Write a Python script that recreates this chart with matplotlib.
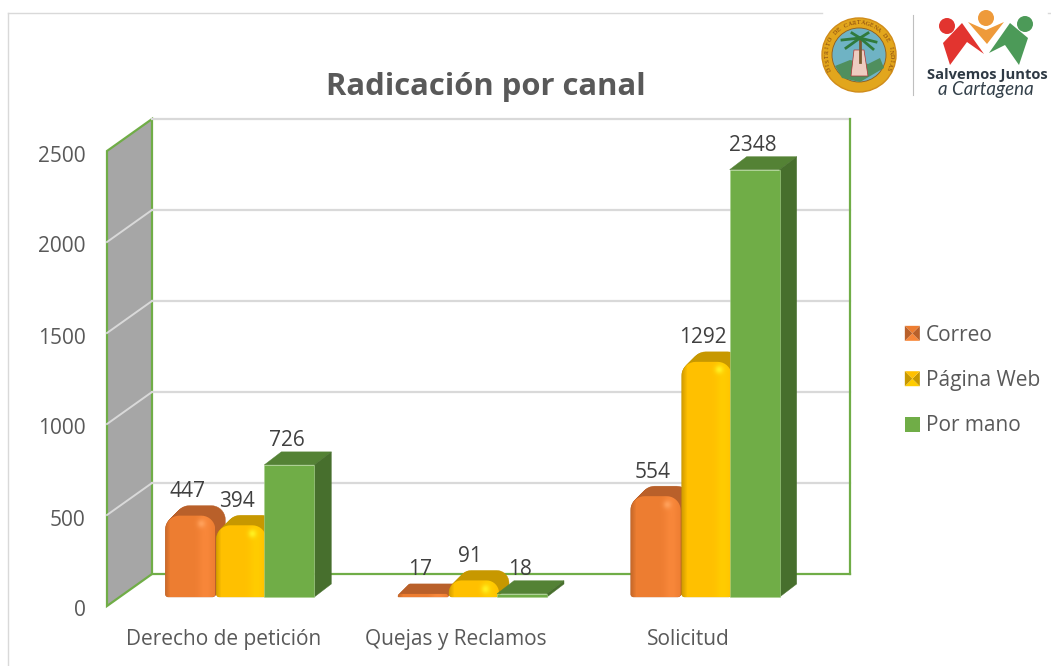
import matplotlib
matplotlib.use('Agg')
import matplotlib.pyplot as plt
from matplotlib.legend_handler import HandlerBase
from matplotlib.patches import Circle, Patch, Polygon
from matplotlib.transforms import ScaledTranslation
import numpy as np

categories = ['Derecho de petición', 'Quejas y Reclamos', 'Solicitud']
series_names = ['Correo', 'Página Web', 'Por mano']
correo = [447, 17, 554]
pagina_web = [394, 91, 1292]
por_mano = [726, 18, 2348]
y_ticks = [0, 500, 1000, 1500, 2000, 2500]

TEXT = '#595959'
LABEL = '#404040'
GREEN_LINE = '#70ad47'
GRID = '#d9d9d9'
ORANGE = {'face': '#ed7d31', 'dark': '#b9602a', 'edge': '#c96a2a', 'light': '#f8873a', 'spot': '#ffa05a'}
YELLOW = {'face': '#ffc000', 'dark': '#c79800', 'edge': '#d79f00', 'light': '#ffcc00', 'spot': '#fff020'}
GREEN = {'face': '#70ad47', 'top': '#548235', 'side': '#476f2d'}

plt.rcParams['font.family'] = ['Open Sans', 'DejaVu Sans']

W, H = 1051, 666
AX_L, AX_R, AX_T, AX_B = 107, 805, 151, 606
fig = plt.figure(figsize=(W / 100, H / 100), dpi=100)

# pixel overlay for frame and logos, lives behind the chart
bg = fig.add_axes([0, 0, 1, 1], zorder=0)
bg.set_xlim(0, W)
bg.set_ylim(H, 0)
bg.axis('off')

ax = fig.add_axes([AX_L / W, 1 - AX_B / H, (AX_R - AX_L) / W, (AX_B - AX_T) / H], zorder=1)
ax.patch.set_alpha(0)
ax.set_xlim(-0.5, 2.5)
ax.set_ylim(0, 2500)
for s in ax.spines.values():
    s.set_visible(False)

PX = 3 / (AX_R - AX_L)  # category units per pixel
PY = 2500 / (AX_B - AX_T)  # value units per pixel


def px(n):
    return n * PX


def py(n):
    return n * PY


WALL_DX, WALL_DY = px(45), py(32)
BAR_DX, BAR_DY = px(16), py(9)  # bars stand halfway into the floor
BAR_W = px(50)
DEPTH_X, DEPTH_Y = px(17), py(13)
BEVEL_X, BEVEL_Y = px(10), py(10)


def draw_walls():
    x0, x1 = -0.5, 2.5
    ax.add_patch(Polygon([(x0, 0), (x0 + WALL_DX, WALL_DY), (x0 + WALL_DX, 2500 + WALL_DY), (x0, 2500)],
                         closed=True, fc='#a6a6a6', ec=GREEN_LINE, lw=1.6, clip_on=False, zorder=1))
    for v in y_ticks[1:]:
        if v < 2500:
            ax.plot([x0, x0 + WALL_DX], [v, v + WALL_DY], color=GRID, lw=1.4, clip_on=False, zorder=2)
        ax.plot([x0 + WALL_DX, x1 + WALL_DX], [v + WALL_DY, v + WALL_DY], color=GRID, lw=1.6,
                clip_on=False, zorder=1)
    ax.plot([x0 + WALL_DX, x1 + WALL_DX], [WALL_DY, WALL_DY], color=GREEN_LINE, lw=1.6, clip_on=False, zorder=1)
    ax.plot([x1 + WALL_DX, x1 + WALL_DX], [WALL_DY, 2500 + WALL_DY], color=GREEN_LINE, lw=1.6,
            clip_on=False, zorder=1)


def round_outline(left, value, r_top=14, r_bot=3):
    # outline of a rounded column, working in pixels from its lower left corner
    w_px = BAR_W / PX
    h_px = max(value / PY, 2.0)
    rt = min(r_top, h_px * 0.75)
    rb = min(r_bot, h_px * 0.2)
    t = np.linspace(0, np.pi / 2, 10)
    xs = np.concatenate([rb - rb * np.sin(t), rt - rt * np.cos(t), w_px - rt + rt * np.sin(t),
                         w_px - rb + rb * np.cos(t)])
    ys = np.concatenate([rb - rb * np.cos(t), h_px - rt + rt * np.sin(t), h_px - rt + rt * np.cos(t),
                         rb - rb * np.sin(t)])
    return np.column_stack([left + xs * PX, BAR_DY + ys * PY])


def bevel_image(style, w_px, h_px):
    # front face shading: darker rims, light band to the right, hot spot near the top right
    n_x, n_y = max(int(w_px), 2), max(int(h_px), 2)
    c_face = np.array(matplotlib.colors.to_rgb(style['face']))
    c_edge = np.array(matplotlib.colors.to_rgb(style['edge']))
    c_light = np.array(matplotlib.colors.to_rgb(style['light']))
    c_spot = np.array(matplotlib.colors.to_rgb(style['spot']))
    xx, yy = np.meshgrid(np.arange(n_x), np.arange(n_y))
    img = np.ones((n_y, n_x, 3)) * c_face
    band = np.exp(-((xx - (n_x - 10)) / 7.0) ** 2)[..., None]
    img = img * (1 - band) + c_light * band
    rim = np.clip(1 - xx / 5.0, 0, 1)[..., None]
    img = img * (1 - rim) + c_edge * rim
    spot = np.exp(-(((xx - (n_x - 14)) / 4.0) ** 2 + ((yy - 8) / 4.0) ** 2))[..., None]
    img = img * (1 - spot) + c_spot * spot
    return img


def draw_bevel_bar(x_center, value, style, zorder, nudge=0.0):
    left = x_center - BAR_W / 2 + BAR_DX + nudge
    outline = round_outline(left, value)
    for t in np.linspace(1, 0, 14):
        ax.add_patch(Polygon(outline + [t * BEVEL_X, t * BEVEL_Y], closed=True, fc=style['dark'],
                             ec=style['dark'], lw=0.3, clip_on=False, zorder=zorder))
    face = Polygon(outline, closed=True, fc='none', ec='none', clip_on=False, zorder=zorder)
    ax.add_patch(face)
    top = BAR_DY + max(value, py(2))
    im = ax.imshow(bevel_image(style, BAR_W / PX, max(value, py(2)) / PY),
                   extent=(left, left + BAR_W, BAR_DY, top), aspect='auto', origin='upper',
                   interpolation='bilinear', zorder=zorder + 0.1)
    im.set_clip_path(face)
    im.set_clip_box(fig.bbox)


def draw_box_bar(x_center, value, zorder):
    left = x_center - BAR_W / 2 + BAR_DX
    right = left + BAR_W
    base = BAR_DY
    top = BAR_DY + value
    ax.bar(left + BAR_W / 2, value, width=BAR_W, bottom=base, color=GREEN['face'], edgecolor='#a9d18e',
           linewidth=0.4, clip_on=False, zorder=zorder + 0.1)
    ax.add_patch(Polygon([(left, top), (right, top), (right + DEPTH_X, top + DEPTH_Y), (left + DEPTH_X, top + DEPTH_Y)],
                         closed=True, fc=GREEN['top'], ec=GREEN['top'], lw=0.3, clip_on=False, zorder=zorder))
    ax.add_patch(Polygon([(right, base), (right + DEPTH_X, base + DEPTH_Y), (right + DEPTH_X, top + DEPTH_Y), (right, top)],
                         closed=True, fc=GREEN['side'], ec=GREEN['side'], lw=0.3, clip_on=False, zorder=zorder))


class PyramidHandler(HandlerBase):
    # bevelled legend swatch, four triangles meeting in the middle
    def __init__(self, style):
        super().__init__()
        self.style = style

    def create_artists(self, legend, orig_handle, xdescent, ydescent, width, height, fontsize, trans):
        s = 15.0 * 0.72  # points
        x0 = width - s - xdescent
        y0 = (height - s) / 2 - ydescent
        c = (x0 + s / 2, y0 + s / 2)
        a, b, d, e = (x0, y0), (x0 + s, y0), (x0 + s, y0 + s), (x0, y0 + s)
        tris = [([a, b, c], self.style['light']), ([b, d, c], self.style['dark']),
                ([d, e, c], self.style['face']), ([e, a, c], self.style['dark'])]
        return [Polygon(p, closed=True, fc=col, ec='none', transform=trans) for p, col in tris]


class SquareHandler(HandlerBase):
    def create_artists(self, legend, orig_handle, xdescent, ydescent, width, height, fontsize, trans):
        s = 15.0 * 0.72
        return [matplotlib.patches.Rectangle((width - s - xdescent, (height - s) / 2 - ydescent), s, s,
                                             fc=GREEN['face'], ec='none', transform=trans)]


def draw_logos():
    line_col = '#bfbfbf'
    bg.plot([8, 8], [13, H], color=GRID, lw=1)
    bg.plot([8, 822], [13, 13], color=GRID, lw=1)
    bg.plot([1048, W], [13, 13], color=GRID, lw=1)
    bg.plot([913, 913], [15, 95], color=line_col, lw=0.8)
    # city seal
    cx, cy = 859, 55
    bg.add_patch(Circle((cx, cy), 37, fc='#e2a61d', ec='#d08c1a', lw=1))
    bg.add_patch(Circle((cx, cy), 27, fc='#6fb3c4', ec='#8a5a20', lw=0.6))
    bg.add_patch(Polygon([(835, 66), (850, 60), (868, 64), (880, 58), (884, 68), (860, 82), (842, 78)],
                         closed=True, fc='#4f8f5e', ec='none'))
    bg.plot([860, 860], [38, 62], color='#7a5a30', lw=2)
    for tip in [(842, 40), (846, 48), (852, 33), (868, 33), (876, 42), (873, 49)]:
        bg.plot([860, tip[0]], [38, tip[1]], color='#2f7a3c', lw=2)
    bg.add_patch(Polygon([(854, 50), (864, 50), (868, 76), (851, 76)], closed=True, fc='#eeccc0', ec='#a33', lw=0.5))
    seal_text = 'DISTRITO DE CARTAGENA DE INDIAS'
    angles = np.linspace(205, -25, len(seal_text))
    for ch, a in zip(seal_text, angles):
        rad = np.deg2rad(a)
        bg.text(cx + 32 * np.cos(rad), cy - 32 * np.sin(rad), ch, fontsize=4.2, color='#7a3b10',
                family='Liberation Serif', rotation=a - 90, ha='center', va='center')
    # people logo
    for (x, y, col) in [(947, 26, '#e2342f'), (986, 18, '#ee9a3a'), (1025, 24, '#4c9a58')]:
        bg.add_patch(Circle((x, y), 8, fc=col, ec='none'))
    bg.add_patch(Polygon([(943, 43), (962, 23), (984, 54), (967, 42), (950, 65)], closed=True, fc='#e2342f', ec='none'))
    bg.add_patch(Polygon([(968, 22), (986, 30), (1004, 22), (987, 44)], closed=True, fc='#ee9a3a', ec='none'))
    bg.add_patch(Polygon([(989, 53), (1010, 23), (1028, 38), (1019, 65), (1005, 45)], closed=True, fc='#4c9a58', ec='none'))
    bg.text(987.5, 75, 'Salvemos Juntos', fontsize=10.6, fontweight='bold', color='#2f3a45', ha='center', va='center')
    bg.text(986, 90, 'a Cartagena', fontsize=13.5, color='#33404a', family='Lato', fontstyle='italic',
            ha='center', va='center')


draw_walls()

x_pos = np.arange(len(categories))
for i in x_pos:
    draw_bevel_bar(i - BAR_W, correo[i], ORANGE, 3, nudge=px(1))
    draw_bevel_bar(i, pagina_web[i], YELLOW, 4, nudge=px(2))
    draw_box_bar(i + BAR_W, por_mano[i], 5)
    for off, vals in zip((-BAR_W, 0, BAR_W), (correo, pagina_web, por_mano)):
        ax.text(i + off + BAR_DX - px(2), vals[i] + BAR_DY + py(24), str(vals[i]), fontsize=15, color=LABEL,
                ha='center', va='center', zorder=8)

ax.set_xticks(x_pos)
ax.set_xticklabels(categories, fontsize=15, color=TEXT)
ax.set_yticks(y_ticks)
ax.set_yticklabels([str(v) for v in y_ticks], fontsize=15, color=TEXT)
ax.tick_params(axis='both', length=0)
ax.tick_params(axis='x', pad=16.5)
ax.tick_params(axis='y', pad=15.5)
ax.grid(False)
for lab in ax.get_yticklabels():
    lab.set_transform(lab.get_transform() + ScaledTranslation(0, -2.5 / 100, fig.dpi_scale_trans))

handles = [Patch(label=n) for n in series_names]
leg = ax.legend(handles=handles, labels=series_names, handler_map={handles[0]: PyramidHandler(ORANGE),
                                                                   handles[1]: PyramidHandler(YELLOW),
                                                                   handles[2]: SquareHandler()},
                loc='center left', bbox_to_anchor=(899 / W, 1 - 380.5 / H), bbox_transform=fig.transFigure,
                frameon=False, fontsize=15, labelcolor=TEXT, labelspacing=1.17, handlelength=1.0,
                handletextpad=0.29, borderpad=0, borderaxespad=0)
leg.set_zorder(10)

fig.text(486 / W, 1 - 87 / H, 'Radicación por canal', fontsize=22.3, fontweight='bold', color=TEXT,
         ha='center', va='center')

draw_logos()

fig.savefig('out.png', dpi=100)
